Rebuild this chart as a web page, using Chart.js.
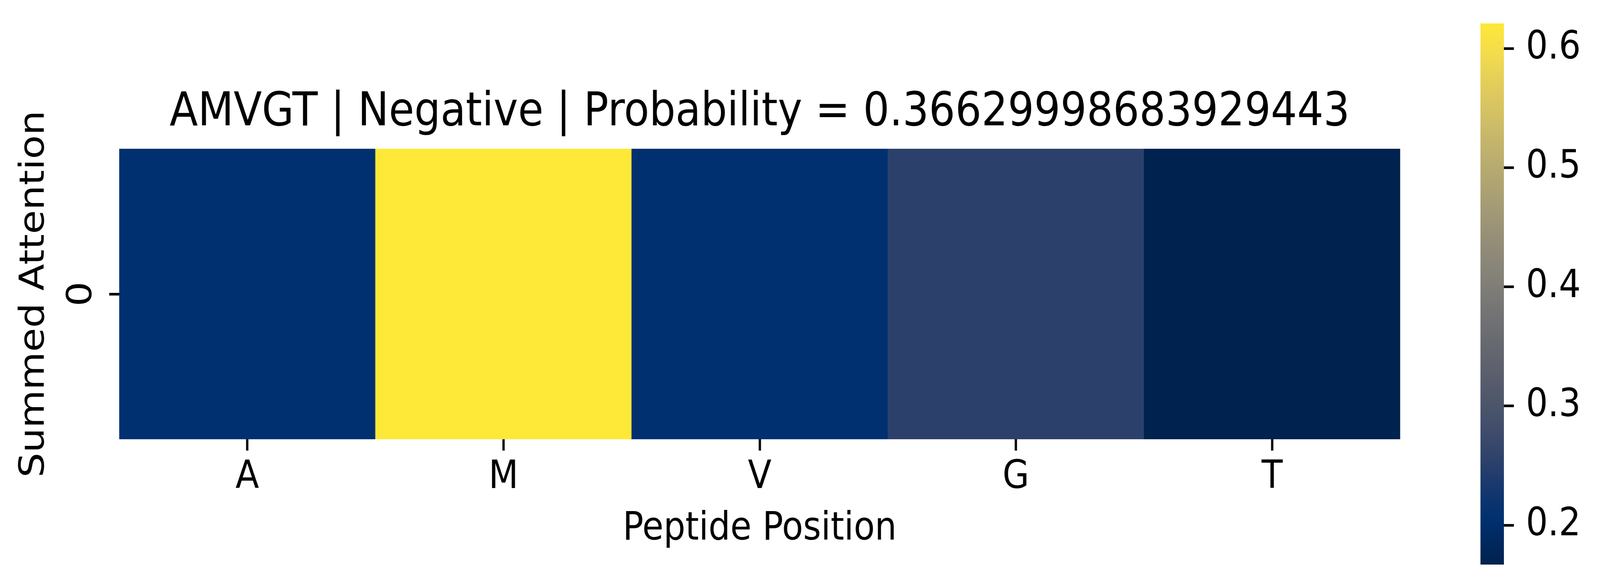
<!DOCTYPE html>
<html>
<head>
<meta charset="utf-8">
<script src="https://cdn.jsdelivr.net/npm/chart.js@4.4.1/dist/chart.umd.min.js"></script>
<style>
  html, body { margin: 0; padding: 0; background: #fff; overflow: hidden; }
  #wrap { position: relative; overflow: hidden; }
  #heat { position: absolute; left: 0; top: 0; }
  #cbar { position: absolute; left: 0; top: 0; visibility: hidden; }
</style>
</head>
<body>
<div id="wrap">
  <canvas id="cbar" width="394" height="1506"></canvas>
  <canvas id="heat" width="4644" height="1506"></canvas>
</div>
<script>
// du lieu doc tu hinh
var positions = ['A', 'M', 'V', 'G', 'T'];
var attention = [0.205, 0.621, 0.205, 0.253, 0.167];
var rowLabels = ['0'];
var cbTicks = [0.2, 0.3, 0.4, 0.5, 0.6];
var titleText = 'AMVGT | Negative | Probability = 0.36629998683929443';

// bang mau cividis (xap xi)
var cividisPos = [0, 0.04, 0.085, 0.13, 0.18, 0.235, 0.294, 0.353, 0.412, 0.471,
                  0.529, 0.588, 0.647, 0.706, 0.765, 0.824, 0.882, 0.941, 1];
var cividisRGB = [[0, 34, 78], [0, 40, 94], [0, 48, 112], [18, 54, 111], [40, 63, 108],
                  [60, 74, 107], [76, 85, 107], [91, 95, 109], [104, 106, 112], [117, 117, 117],
                  [131, 129, 120], [146, 140, 120], [161, 152, 118], [176, 165, 114], [192, 177, 109],
                  [209, 191, 102], [225, 204, 92], [243, 219, 79], [254, 232, 56]];

var vmin = Math.min.apply(null, attention);
var vmax = Math.max.apply(null, attention);
var FONT = "'DejaVu Sans', 'Liberation Sans', sans-serif";
var W = 4644, H = 1506;
var CBAR_LEFT = 4250; // vi tri canvas thanh mau tren hinh chinh

// canvas giu 4644x1506 pixel, CSS keo cho vua cua so
var _kx = (document.documentElement.clientWidth || window.innerWidth || W) / W;
var _ky = (window.innerHeight || document.documentElement.clientHeight || H) / H;
function fitCss(el, w, h) {
    el.style.width = (w * _kx) + 'px';
    el.style.height = (h * _ky) + 'px';
}
fitCss(document.getElementById('wrap'), W, H);
fitCss(document.getElementById('heat'), W, H);
fitCss(document.getElementById('cbar'), 394, H);

function cividis(t) {
    t = Math.max(0, Math.min(1, t));
    for (var i = 1; i < cividisPos.length; i++) {
        if (t <= cividisPos[i]) {
            var f = (t - cividisPos[i - 1]) / (cividisPos[i] - cividisPos[i - 1]);
            var a = cividisRGB[i - 1], b = cividisRGB[i];
            return 'rgb(' + Math.round(a[0] + (b[0] - a[0]) * f) + ',' +
                Math.round(a[1] + (b[1] - a[1]) * f) + ',' +
                Math.round(a[2] + (b[2] - a[2]) * f) + ')';
        }
    }
    var c = cividisRGB[cividisRGB.length - 1];
    return 'rgb(' + c[0] + ',' + c[1] + ',' + c[2] + ')';
}

function norm(v) {
    return (v - vmin) / (vmax - vmin);
}

Chart.defaults.font.family = FONT;
Chart.defaults.color = '#000';

var tickGrid = {
    drawOnChartArea: false,
    drawTicks: true,
    tickLength: 29,
    tickWidth: 6.7,
    tickColor: '#000',
    offset: false
};

// thanh mau: ve tren canvas an, sau do chep vao hinh chinh
var cbarCanvas = document.getElementById('cbar');
var _cbar = new Chart(cbarCanvas.getContext('2d'), {
    type: 'bar',
    data: {
        labels: ['cbar'],
        datasets: [{
            data: [[vmin, vmax]],
            backgroundColor: function (context) {
                var chart = context.chart;
                if (!chart.chartArea) return null;
                var ys = chart.scales.y;
                var g = chart.ctx.createLinearGradient(0, ys.getPixelForValue(vmin), 0, ys.getPixelForValue(vmax));
                for (var i = 0; i < cividisPos.length; i++) {
                    g.addColorStop(cividisPos[i], cividis(cividisPos[i]));
                }
                return g;
            },
            borderWidth: 0,
            categoryPercentage: 1,
            barPercentage: 1
        }]
    },
    options: {
        responsive: false,
        devicePixelRatio: 1,
        animation: false,
        events: [],
        layout: { padding: { left: 47, right: 0, top: 60, bottom: 60 } },
        plugins: { legend: { display: false }, tooltip: { enabled: false } },
        scales: {
            x: { display: false },
            y: {
                type: 'linear',
                position: 'right',
                min: vmin,
                max: vmax,
                grid: tickGrid,
                border: { display: false },
                afterBuildTicks: function (scale) {
                    scale.ticks = cbTicks.map(function (v) { return { value: v }; });
                },
                ticks: {
                    font: { size: 100 },
                    padding: 35,
                    callback: function (value) { return value.toFixed(1); }
                },
                afterFit: function (scale) {
                    scale.width = 279;
                    scale.paddingTop = 0;
                    scale.paddingBottom = 0;
                }
            }
        }
    }
});

var cbarPlugin = {
    id: 'cbarPlugin',
    afterDraw: function (chart) {
        _cbar.draw();
        chart.ctx.drawImage(cbarCanvas, CBAR_LEFT, 0);
    }
};

// heatmap chinh: moi o la mot cot noi tu (hang - 0.5) den (hang + 0.5)
new Chart(document.getElementById('heat').getContext('2d'), {
    type: 'bar',
    data: {
        labels: positions,
        datasets: rowLabels.map(function (r, i) {
            return {
                label: r,
                data: attention.map(function () { return [i - 0.5, i + 0.5]; }),
                backgroundColor: attention.map(function (v) { return cividis(norm(v)); }),
                borderWidth: 0,
                categoryPercentage: 1,
                barPercentage: 1
            };
        })
    },
    options: {
        responsive: false,
        devicePixelRatio: 1,
        animation: false,
        events: [],
        layout: { padding: { left: 0, right: 580, top: 0, bottom: 90 } },
        plugins: {
            legend: { display: false },
            tooltip: { enabled: false },
            title: {
                display: true,
                text: titleText,
                fullSize: false,
                color: '#000',
                font: { size: 120, weight: 'normal', family: FONT },
                padding: { top: 218, bottom: 19 }
            }
        },
        scales: {
            x: {
                type: 'category',
                offset: true,
                grid: tickGrid,
                border: { display: false },
                ticks: { font: { size: 100 }, padding: 10, maxRotation: 0 },
                title: {
                    display: true,
                    text: 'Peptide Position',
                    font: { size: 100 },
                    padding: { top: 0, bottom: 0 }
                },
                afterFit: function (scale) { scale.height = 291; }
            },
            y: {
                type: 'linear',
                min: -0.5,
                max: rowLabels.length - 0.5,
                grid: tickGrid,
                border: { display: false },
                afterBuildTicks: function (scale) {
                    scale.ticks = rowLabels.map(function (r, i) { return { value: i }; });
                },
                ticks: {
                    font: { size: 100 },
                    padding: 46,
                    minRotation: 90,
                    maxRotation: 90,
                    crossAlign: 'center',
                    callback: function (value, index) { return rowLabels[index]; }
                },
                title: {
                    display: true,
                    text: 'Summed Attention',
                    font: { size: 100 },
                    padding: { top: 41, bottom: 0 }
                },
                afterFit: function (scale) { scale.width = 346; }
            }
        }
    },
    plugins: [cbarPlugin]
});
</script>
</body>
</html>
